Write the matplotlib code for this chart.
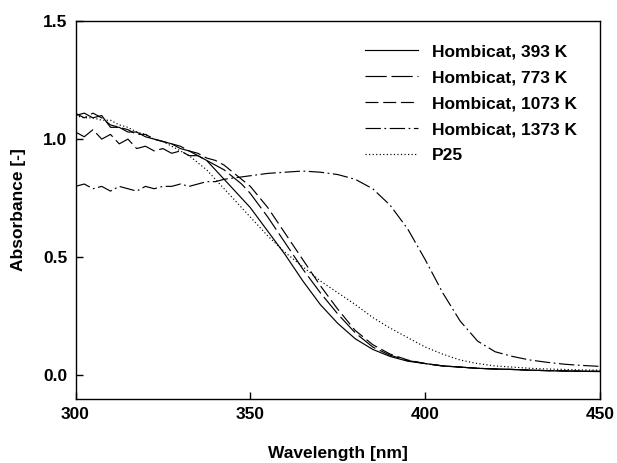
import matplotlib
matplotlib.use("Agg")
import matplotlib.pyplot as plt

plt.rcParams['font.family'] = ['Liberation Sans', 'DejaVu Sans']
plt.rcParams['font.weight'] = 'bold'

wavelength = [300, 302.5, 305, 307.5, 310, 312.5, 315, 317.5, 320, 322.5, 325, 327.5, 330, 332.5,
              335, 337.5, 340, 342.5, 345, 347.5, 350, 355, 360, 365, 370, 375, 380, 385, 390,
              395, 400, 405, 410, 415, 420, 425, 430, 435, 440, 445, 450]

h393 = [1.10, 1.11, 1.09, 1.10, 1.05, 1.05, 1.03, 1.03, 1.01, 1.00, 0.99, 0.98, 0.96, 0.95,
        0.93, 0.91, 0.87, 0.83, 0.79, 0.75, 0.71, 0.61, 0.51, 0.40, 0.30, 0.22, 0.155, 0.11, 0.08,
        0.06, 0.05, 0.04, 0.035, 0.03, 0.027, 0.025, 0.022, 0.02, 0.018, 0.017, 0.016]
h773 = [1.03, 1.01, 1.04, 1.00, 1.02, 0.98, 1.00, 0.96, 0.97, 0.95, 0.96, 0.94, 0.95, 0.93,
        0.93, 0.91, 0.89, 0.87, 0.84, 0.81, 0.77, 0.67, 0.56, 0.45, 0.35, 0.26, 0.18, 0.12, 0.085,
        0.063, 0.05, 0.04, 0.035, 0.03, 0.027, 0.025, 0.022, 0.02, 0.019, 0.018, 0.017]
h1073 = [1.11, 1.09, 1.11, 1.09, 1.06, 1.05, 1.04, 1.02, 1.02, 1.00, 0.99, 0.98, 0.97, 0.95,
         0.94, 0.92, 0.91, 0.89, 0.86, 0.83, 0.80, 0.71, 0.60, 0.49, 0.38, 0.28, 0.19, 0.13, 0.09,
         0.065, 0.05, 0.04, 0.035, 0.03, 0.027, 0.025, 0.022, 0.02, 0.019, 0.018, 0.017]
h1373 = [0.80, 0.81, 0.79, 0.80, 0.78, 0.80, 0.79, 0.78, 0.80, 0.79, 0.80, 0.80, 0.81, 0.80,
         0.81, 0.82, 0.82, 0.83, 0.835, 0.84, 0.845, 0.855, 0.86, 0.865, 0.86, 0.85, 0.83, 0.79, 0.72,
         0.62, 0.49, 0.35, 0.23, 0.145, 0.10, 0.08, 0.065, 0.055, 0.047, 0.042, 0.038]
p25 = [1.10, 1.09, 1.09, 1.08, 1.08, 1.06, 1.05, 1.03, 1.02, 1.00, 0.99, 0.97, 0.95, 0.93,
       0.90, 0.87, 0.83, 0.79, 0.75, 0.71, 0.67, 0.59, 0.52, 0.46, 0.40, 0.35, 0.30, 0.245, 0.20,
       0.16, 0.12, 0.09, 0.065, 0.05, 0.04, 0.035, 0.03, 0.027, 0.025, 0.023, 0.022]

labels = ["Hombicat, 393 K", "Hombicat, 773 K", "Hombicat, 1073 K", "Hombicat, 1373 K", "P25"]
xticks = [300, 350, 400, 450]
yticks = [0.0, 0.5, 1.0, 1.5]

fig = plt.figure(figsize=(6.17, 4.63), dpi=100)
ax = fig.add_axes([75.5/617, 1-399/463, (600-75.5)/617, (399-21)/463])

lw = 0.85
ax.plot(wavelength, h393, color='black', lw=lw, label=labels[0])
ax.plot(wavelength, h773, color='black', lw=lw, dashes=(18, 4), label=labels[1])
ax.plot(wavelength, h1073, color='black', lw=lw, dashes=(11, 4), label=labels[2])
ax.plot(wavelength, h1373, color='black', lw=lw, dashes=(13, 3, 1.5, 3), label=labels[3])
ax.plot(wavelength, p25, color='black', lw=lw, dashes=(1, 2), label=labels[4])

ax.set_xlim(300, 450)
ax.set_ylim(-0.1, 1.5)
ax.set_xticks(xticks)
ax.set_yticks(yticks)
ax.set_xticklabels([str(t) for t in xticks])
ax.set_yticklabels([f"{t:.1f}" for t in yticks])
ax.tick_params(direction='in', length=5, width=1, labelsize=12.5, top=False, right=False, pad=6)
for lab in ax.get_xticklabels() + ax.get_yticklabels():
    lab.set_fontweight('bold')
for s in ax.spines.values():
    s.set_linewidth(1.0)

ax.set_xlabel("Wavelength [nm]", fontsize=12.5, fontweight='bold', labelpad=17)
ax.set_ylabel("Absorbance [-]", fontsize=12.5, fontweight='bold', labelpad=12)

leg = ax.legend(loc='upper left', bbox_to_anchor=(0.539, 0.957), frameon=False,
                prop={'size': 12.5, 'weight': 'bold'}, handlelength=3.05, handletextpad=0.8,
                labelspacing=0.62, borderaxespad=0)

fig.savefig("out.png", dpi=100)
